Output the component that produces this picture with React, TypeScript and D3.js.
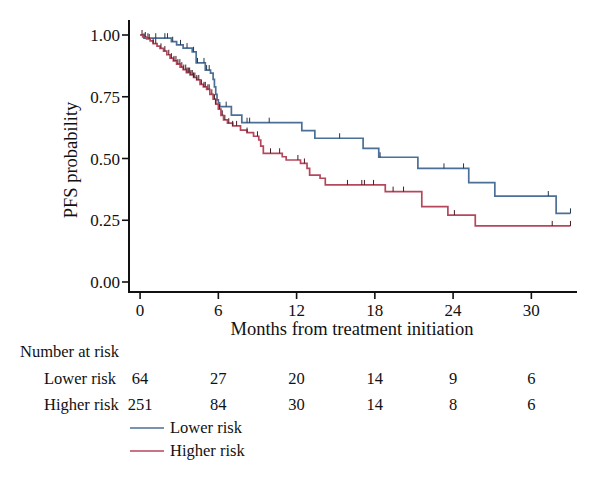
import React, { useEffect, useRef } from 'react';
import * as d3 from 'd3';

// step curves: event time (months) and survival after that event
const lowerTimes = [0, 0.3, 2.4, 2.8, 3.3, 4.0, 4.3, 5.0, 5.4, 5.6, 5.7, 5.8, 5.9, 6.0, 6.1, 7.0, 7.8, 12.4, 13.4, 17.1, 18.3, 21.3, 25.2, 27.2, 31.9];
const lowerSurv = [1.0, 0.987, 0.973, 0.96, 0.947, 0.932, 0.887, 0.858, 0.846, 0.82, 0.79, 0.76, 0.737, 0.725, 0.71, 0.676, 0.645, 0.613, 0.582, 0.541, 0.505, 0.46, 0.402, 0.348, 0.278];
const lowerCensor = [0.3, 0.6, 1.2, 1.9, 2.1, 2.5, 3.1, 3.6, 4.1, 4.4, 4.9, 5.1, 5.3, 6.6, 8.2, 8.4, 9.9, 15.3, 18.4, 23.3, 24.8, 31.3, 33.0];

const higherTimes = [0, 0.2, 0.5, 0.77, 1.0, 1.3, 1.53, 1.8, 2.05, 2.3, 2.55, 2.8, 3.07, 3.3, 3.55, 3.83, 4.1, 4.34, 4.6, 4.85, 5.1, 5.35, 5.6, 5.8, 6.0, 6.2, 6.4, 6.7, 7.1, 7.7, 8.2, 8.7, 9.1, 9.25, 9.45, 10.9, 11.2, 12.3, 12.8, 13.0, 13.8, 14.2, 18.8, 21.6, 23.6, 25.7];
const higherSurv = [1.0, 0.992, 0.984, 0.976, 0.965, 0.955, 0.946, 0.935, 0.92, 0.906, 0.895, 0.882, 0.87, 0.86, 0.848, 0.838, 0.828, 0.818, 0.8, 0.79, 0.78, 0.76, 0.74, 0.72, 0.7, 0.675, 0.656, 0.643, 0.632, 0.615, 0.605, 0.59, 0.575, 0.55, 0.521, 0.507, 0.494, 0.48, 0.46, 0.433, 0.42, 0.393, 0.366, 0.305, 0.271, 0.227];
const higherCensor = [0.15, 0.4, 0.7, 1.0, 1.2, 1.6, 1.9, 2.2, 2.4, 2.6, 2.75, 2.9, 3.05, 3.2, 3.35, 3.5, 3.6, 3.7, 3.8, 3.9, 4.0, 4.1, 4.2, 4.35, 4.5, 4.7, 4.9, 5.0, 5.2, 5.3, 5.5, 5.7, 5.8, 6.1, 6.3, 6.5, 6.8, 7.1, 7.4, 8.2, 9.0, 10.0, 10.7, 12.1, 12.6, 15.9, 17.0, 17.2, 17.9, 19.4, 20.2, 24.1, 31.6, 33.0];

const endTime = 33.0;
const xTicks = [0, 6, 12, 18, 24, 30];
const yTicks = [0, 0.25, 0.5, 0.75, 1.0];
const groups = ['Lower risk', 'Higher risk'];
const colors = ['#4b6f96', '#b5475c'];
const censorColors = ['#23364d', '#4a1a22'];
const atRiskLower = [64, 27, 20, 14, 9, 6];
const atRiskHigher = [251, 84, 30, 14, 8, 6];

const font = '"Liberation Serif", "DejaVu Serif", serif';

export default function App() {
  const ref = useRef<SVGSVGElement>(null);

  useEffect(() => {
    const svg = d3.select(ref.current);
    svg.selectAll('*').remove();

    const x = d3.scaleLinear().domain([-0.85, 33.5]).range([129, 577]);
    const y = d3.scaleLinear().domain([0, 1]).range([282, 35]);
    const axisY = 292;

    // axes
    svg.append('line').attr('x1', x(-0.85)).attr('x2', x(33.5)).attr('y1', axisY).attr('y2', axisY)
      .attr('stroke', '#111').attr('stroke-width', 2);
    svg.append('line').attr('x1', x(-0.85)).attr('x2', x(-0.85)).attr('y1', 20).attr('y2', axisY + 1)
      .attr('stroke', '#111').attr('stroke-width', 2);

    xTicks.forEach(t => {
      svg.append('line').attr('x1', x(t)).attr('x2', x(t)).attr('y1', axisY).attr('y2', axisY + 7)
        .attr('stroke', '#111').attr('stroke-width', 1.6);
      svg.append('text').attr('x', x(t)).attr('y', 316).attr('text-anchor', 'middle')
        .attr('font-family', font).attr('font-size', 17).attr('fill', '#111').text(String(t));
    });
    yTicks.forEach(t => {
      svg.append('line').attr('x1', x(-0.85) - 7).attr('x2', x(-0.85)).attr('y1', y(t)).attr('y2', y(t))
        .attr('stroke', '#111').attr('stroke-width', 1.6);
      svg.append('text').attr('x', 120).attr('y', y(t) + 6).attr('text-anchor', 'end')
        .attr('font-family', font).attr('font-size', 17).attr('fill', '#111').text(d3.format('.2f')(t));
    });

    svg.append('text').attr('transform', `translate(77,160) rotate(-90)`).attr('text-anchor', 'middle')
      .attr('font-family', font).attr('font-size', 18.5).attr('fill', '#111').text('PFS probability');
    svg.append('text').attr('x', 352).attr('y', 335).attr('text-anchor', 'middle')
      .attr('font-family', font).attr('font-size', 18.5).attr('fill', '#111').text('Months from treatment initiation');

    // curves
    const series = [
      { times: lowerTimes, surv: lowerSurv, censor: lowerCensor },
      { times: higherTimes, surv: higherSurv, censor: higherCensor },
    ];
    const line = d3.line<[number, number]>().x(d => x(d[0])).y(d => y(d[1])).curve(d3.curveStepAfter);
    const survAt = (times: number[], surv: number[], t: number) => {
      const i = d3.bisectRight(times, t) - 1;
      return surv[Math.max(0, i)];
    };

    series.forEach((s, k) => {
      const pts: [number, number][] = s.times.map((t, i) => [t, s.surv[i]]);
      pts.push([endTime, s.surv[s.surv.length - 1]]);
      svg.append('path').attr('d', line(pts)).attr('fill', 'none')
        .attr('stroke', colors[k]).attr('stroke-width', 1.7);
      s.censor.forEach(c => {
        const v = survAt(s.times, s.surv, c);
        svg.append('line').attr('x1', x(c)).attr('x2', x(c)).attr('y1', y(v)).attr('y2', y(v) - 5)
          .attr('stroke', censorColors[k]).attr('stroke-width', 1);
      });
    });

    // number at risk table
    svg.append('text').attr('x', 20).attr('y', 357).attr('font-family', font).attr('font-size', 16.5)
      .attr('fill', '#111').text('Number at risk');
    [atRiskLower, atRiskHigher].forEach((row, k) => {
      const ry = 384 + k * 26;
      svg.append('text').attr('x', 44).attr('y', ry).attr('font-family', font).attr('font-size', 16.5)
        .attr('fill', '#111').text(groups[k]);
      row.forEach((n, i) => {
        svg.append('text').attr('x', x(xTicks[i])).attr('y', ry).attr('text-anchor', 'middle')
          .attr('font-family', font).attr('font-size', 16.5).attr('fill', '#111').text(String(n));
      });
    });

    // legend
    groups.forEach((g, k) => {
      const ly = 433 + k * 23;
      svg.append('line').attr('x1', 130).attr('x2', 164).attr('y1', ly - 5).attr('y2', ly - 5)
        .attr('stroke', colors[k]).attr('stroke-width', 1.7);
      svg.append('text').attr('x', 170).attr('y', ly).attr('font-family', font).attr('font-size', 16.5)
        .attr('fill', '#111').text(g);
    });
  }, []);

  return (
    <div style={{ position: 'absolute', left: 0, top: 0 }}>
      <svg ref={ref} width={600} height={480} style={{ display: 'block', background: '#fff' }} />
    </div>
  );
}
